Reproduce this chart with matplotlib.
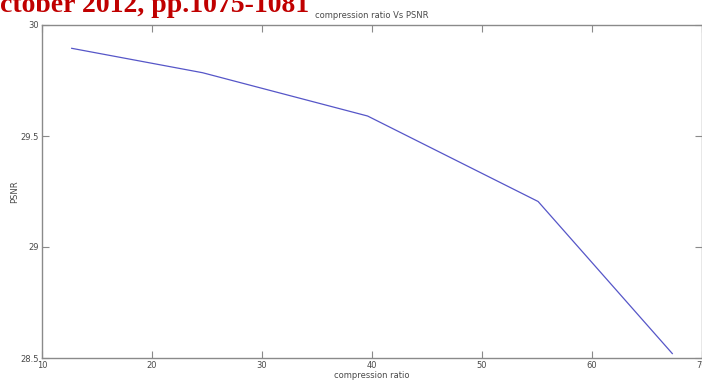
import matplotlib.pyplot as plt

# compression ratio vs PSNR
ratio = [12.7, 24.6, 39.6, 55.1, 67.3]
psnr = [29.895, 29.785, 29.59, 29.205, 28.52]

x_ticks = [10, 20, 30, 40, 50, 60, 70]
y_ticks = [28.5, 29, 29.5, 30]

fig = plt.figure(figsize=(7.02, 3.81), dpi=100)
ax = fig.add_axes([42 / 702, 1 - 358 / 381, 660 / 702, 333 / 381])

ax.plot(ratio, psnr, color="#5656c8", lw=0.9)
ax.set_xlim(10, 70)
ax.set_ylim(28.5, 30)
ax.set_xticks(x_ticks)
ax.set_yticks(y_ticks)
ax.set_yticklabels(["28.5", "29", "29.5", "30"])

for s in ax.spines.values():
    s.set_color("#8a8a8a")
    s.set_linewidth(1.0)
ax.tick_params(direction="in", length=5, width=0.8, color="#8a8a8a",
               labelsize=6, labelcolor="#4a4a4a", top=True, right=True, pad=2)

ax.set_title("compression ratio Vs PSNR", fontsize=6, color="#4a4a4a", pad=5)
ax.set_xlabel("compression ratio", fontsize=6, color="#4a4a4a", labelpad=1)
ax.set_ylabel("PSNR", fontsize=6, color="#4a4a4a", labelpad=1)

# slide header text that overlaps the chart, cut at the top edge
fig.text(0, 1 - 12 / 381, "ctober 2012, pp.1075-1081", fontsize=20,
         fontweight="bold", family="Liberation Serif", color="#c00000",
         va="baseline")

fig.savefig("out.png", dpi=100)
